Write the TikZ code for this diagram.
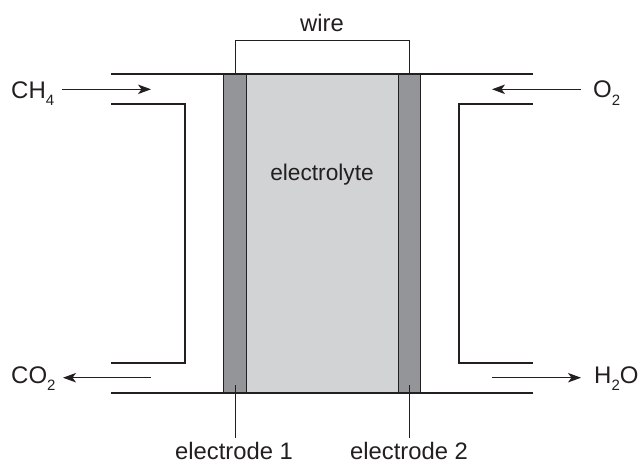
\documentclass[tikz,border=0pt]{standalone}
\usepackage{fontspec}
\setmainfont{Liberation Sans}
\usetikzlibrary{arrows.meta}
\definecolor{ink}{RGB}{35,31,32}
\definecolor{elgrey}{RGB}{147,149,152}
\definecolor{lygrey}{RGB}{209,211,212}
\newcommand{\subdigit}[1]{\raisebox{-7.5pt}{\fontsize{15}{15}\selectfont #1}}
\tikzset{
  x=1pt,y=-1pt,
  thick line/.style={draw=ink,line width=1.7pt},
  thin line/.style={draw=ink,line width=1pt},
  flow/.style={draw=ink,line width=1pt,-{Stealth[length=13pt,width=9.5pt,inset=3.5pt]}},
  lbl/.style={text=ink,font=\fontsize{23.8}{26}\selectfont,inner sep=0pt,anchor=base},
  chem/.style={text=ink,font=\fontsize{24}{26}\selectfont,inner sep=0pt,anchor=base west},
  plate/.style={draw=ink,line width=1pt,inner sep=0pt,minimum width=22.5pt,minimum height=318.5pt,fill=elgrey},
  bath/.style={inner sep=0pt,minimum width=152pt,minimum height=318.5pt,fill=lygrey}
}
\begin{document}
\begin{tikzpicture}
\useasboundingbox (0,0) rectangle (638,464);
\node[bath] (bath) at (322,233.3) {};
\node[plate] (e1) at (235,233.3) {};
\node[plate] (e2) at (409.5,233.3) {};
% wire
\coordinate (w1) at (235,74);
\coordinate (w2) at (409.5,74);
\draw[thin line] (w1) -- ++(0,-34) -| (w2);
% walls
\coordinate (tl) at (111,74); \coordinate (tr) at (533,74);
\coordinate (bl) at (111,393); \coordinate (br) at (533,393);
\draw[thick line] (tl) -- (tr);
\draw[thick line] (bl) -- (br);
\coordinate (il1) at (111,104); \coordinate (il2) at (111,363);
\coordinate (ir1) at (533,104); \coordinate (ir2) at (533,363);
\draw[thick line,line join=miter] (il1) -- (185,104) -- (185,363) -- (il2);
\draw[thick line,line join=miter] (ir1) -- (459,104) -- (459,363) -- (ir2);
% labels
\node[lbl] (wire) at (322,31) {wire};
\node[lbl,font=\fontsize{22.7}{26}\selectfont] (ely) at (322,180) {electrolyte};
\node[chem] (ch4) at (11,98.3) {CH\subdigit{4}};
\node[chem] (co2) at (11,383) {CO\subdigit{2}};
\node[chem] (o2) at (593,97.5) {O\subdigit{2}};
\node[chem] (h2o) at (594,383) {H\subdigit{2}O};
\node[lbl] (l1) at (234,459) {electrode 1};
\node[lbl] (l2) at (409,459) {electrode 2};
% arrows
\coordinate (a1s) at (62,89.3); \coordinate (a1e) at (151,89.3);
\coordinate (a2s) at (151,377.7); \coordinate (a2e) at (63,377.7);
\coordinate (a3s) at (581,89.3); \coordinate (a3e) at (492,89.3);
\coordinate (a4s) at (492,377.7); \coordinate (a4e) at (581,377.7);
\draw[flow] (a1s) -- (a1e);
\draw[flow] (a2s) -- (a2e);
\draw[flow] (a3s) -- (a3e);
\draw[flow] (a4s) -- (a4e);
% leaders
\coordinate (d1) at (235,438); \coordinate (d2) at (409.5,438);
\coordinate (u1) at (235,385); \coordinate (u2) at (409.5,385);
\draw[thin line] (u1) -- (d1);
\draw[thin line] (u2) -- (d2);
\end{tikzpicture}
\end{document}
